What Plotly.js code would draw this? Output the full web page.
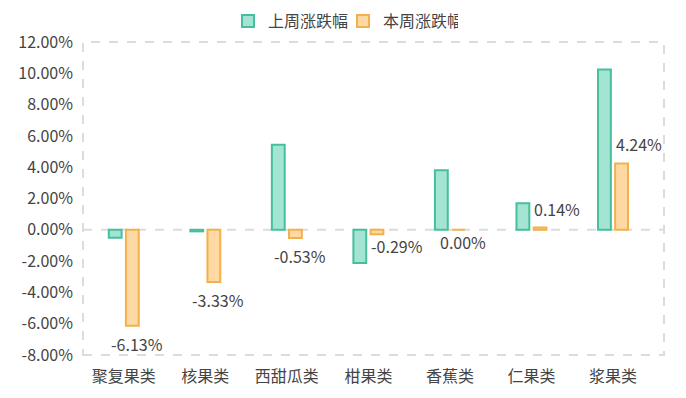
<!DOCTYPE html>
<html>
<head>
<meta charset="utf-8">
<script src="https://cdn.plot.ly/plotly-3.0.1.min.js"></script>
<style>html,body{margin:0;padding:0;background:#fff;}#chart{width:686px;height:398px;}</style>
</head>
<body>
<div id="chart"></div>
<script>
const categories = ['聚复果类', '核果类', '西甜瓜类', '柑果类', '香蕉类', '仁果类', '浆果类'];
const lastWeek = [-0.50, -0.10, 5.43, -2.12, 3.80, 1.70, 10.24];
const thisWeek = [-6.13, -3.33, -0.53, -0.29, 0.00, 0.14, 4.24];
const seriesNames = ['上周涨跌幅', '本周涨跌幅'];
const yTicks = [-8, -6, -4, -2, 0, 2, 4, 6, 8, 10, 12];

const font = "'Microsoft YaHei', 'Noto Sans CJK SC', sans-serif";
const fmt = v => v.toFixed(2) + '%';

// value labels for 本周 series; moved beside the green bar when they would overlap it
const annotations = thisWeek.map((v, i) => {
  const g = lastWeek[i];
  const up = v > 0;
  const lo = up ? v + 0.8 : v - 1.8, hi = up ? v + 1.8 : v - 0.8;
  const overlap = hi > Math.min(0, g) && lo < Math.max(0, g);
  const small = overlap || v === 0;
  return {
    x: categories[i], y: v, xref: 'x', yref: 'y', text: fmt(v), showarrow: false,
    xanchor: overlap ? 'left' : 'center', xshift: overlap ? 1 : 13,
    yanchor: up ? 'bottom' : 'top', yshift: up ? 5 : (small ? 2 : -4),
    font: {family: font, size: 16, color: '#444'}
  };
});

const traces = [
  {
    type: 'bar', name: seriesNames[0], x: categories, y: lastWeek,
    marker: {color: '#a3e4d3', line: {color: '#45bf9e', width: 2}},
    hoverinfo: 'none'
  },
  {
    type: 'bar', name: seriesNames[1], x: categories, y: thisWeek,
    marker: {color: '#ffd9a3', line: {color: '#f4b04f', width: 2}},
    hoverinfo: 'none'
  }
];

const layout = {
  width: 686, height: 398,
  margin: {l: 83, r: 22, t: 42, b: 43},
  paper_bgcolor: '#fff', plot_bgcolor: '#fff',
  barmode: 'group', bargap: 0.58, bargroupgap: 0.25,
  font: {family: font, size: 16, color: '#444'},
  showlegend: true,
  legend: {orientation: 'h', x: 0.5, xanchor: 'center', xref: 'container',
           y: 0.99, yanchor: 'top', yref: 'container',
           entrywidth: 70, entrywidthmode: 'pixels',
           font: {family: font, size: 16, color: '#444'}, itemwidth: 30, traceorder: 'normal'},
  xaxis: {type: 'category', showgrid: false, zeroline: false, showline: false, ticks: '',
          ticklabelstandoff: 10,
          tickfont: {family: font, size: 16, color: '#444'}},
  yaxis: {range: [-8, 12], tickvals: yTicks, ticktext: yTicks.map(fmt),
          showgrid: false, zeroline: false, showline: false, ticks: '', ticklabelstandoff: 9,
          tickfont: {family: font, size: 16, color: '#444'}},
  annotations: annotations,
  shapes: [
    {type: 'rect', xref: 'paper', yref: 'paper', x0: 0, x1: 1, y0: 0, y1: 1,
     line: {color: '#dcdcdc', width: 2, dash: 'dash'}, layer: 'below'},
    {type: 'line', xref: 'paper', yref: 'y', x0: 0, x1: 1, y0: 0, y1: 0,
     line: {color: '#dcdcdc', width: 2, dash: 'dash'}, layer: 'below'}
  ]
};

Plotly.newPlot('chart', traces, layout, {displayModeBar: false, staticPlot: true});
</script>
</body>
</html>
